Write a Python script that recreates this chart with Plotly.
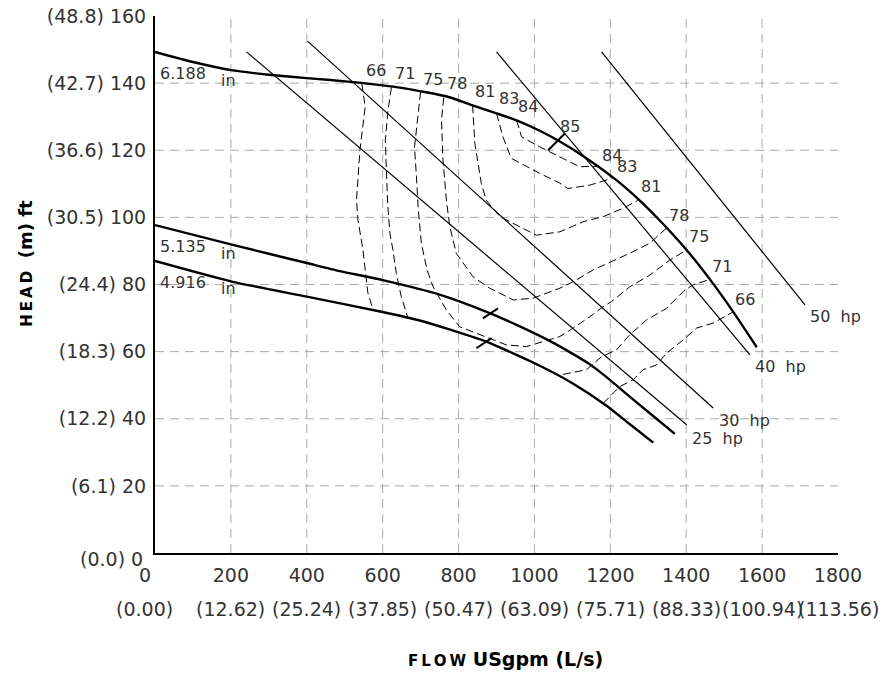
import plotly.graph_objects as go

FONT = "DejaVu Sans"
TXT = "#333333"

# ---------------- data (flow in USgpm, head in ft) ----------------
x_tick_vals = [200, 400, 600, 800, 1000, 1200, 1400, 1600, 1800]
x_tick_text = ["200", "400", "600", "800", "1000", "1200", "1400", "1600", "1800"]
x_metric_vals = [0, 200, 400, 600, 800, 1000, 1200, 1400, 1600, 1800]
x_metric_text = ["(0.00)", "(12.62)", "(25.24)", "(37.85)", "(50.47)", "(63.09)",
                 "(75.71)", "(88.33)", "(100.94)", "(113.56)"]
y_tick_vals = [20, 40, 60, 80, 100, 120, 140, 160]
y_tick_text = ["(6.1) 20", "(12.2) 40", "(18.3) 60", "(24.4) 80", "(30.5) 100",
               "(36.6) 120", "(42.7) 140", "(48.8) 160"]
x_grid = [200, 400, 600, 800, 1000, 1200, 1400, 1600]
y_grid = [20, 40, 60, 80, 100, 120, 140]

# impeller curves
imp6188_gpm = [0, 100, 205, 300, 400, 522, 650, 776, 837, 900, 953, 1014, 1067, 1128,
               1216, 1277, 1331, 1401, 1462, 1523, 1586]
imp6188_ft = [149.3, 146.3, 143.8, 142.5, 141.5, 140.3, 138.6, 135.8, 133.4, 131.0, 128.9,
              125.8, 122.6, 118.3, 111.1, 105.1, 99.0, 90.3, 81.6, 72.0, 61.3]
imp5135_gpm = [0, 205, 400, 487, 600, 750, 882, 960, 1040, 1100, 1146, 1190, 1233, 1300, 1370]
imp5135_ft = [97.7, 91.8, 86.4, 84.0, 81.3, 77.0, 71.5, 67.6, 63.2, 59.4, 56.2, 52.4, 48.3,
              42.0, 35.5]
imp4916_gpm = [0, 205, 400, 600, 700, 776, 873, 1014, 1100, 1190, 1250, 1313]
imp4916_ft = [87.0, 80.8, 76.4, 71.8, 69.2, 66.6, 63.0, 55.8, 50.6, 43.9, 38.5, 32.9]
imp_names = ["6.188", "5.135", "4.916"]
imp_label_ft = [143.0, 91.3, 80.5]
imp_unit_ft = [140.9, 89.3, 78.9]

# best efficiency marks (start / end of each short tick)
bep_gpm = [[1036, 1080], [864, 904], [847, 887]]
bep_ft = [[120.0, 125.0], [69.9, 72.9], [61.0, 64.0]]

# power lines
hp_names = ["25\u00a0\u00a0hp", "30\u00a0\u00a0hp", "40\u00a0\u00a0hp", "50\u00a0\u00a0hp"]
hp_gpm = [[241, 1401], [402, 1471], [900, 1568], [1177, 1713]]
hp_ft = [[149.3, 38.2], [152.5, 43.2], [149.3, 59.0], [149.3, 73.9]]
hp_label_gpm = [1409, 1480, 1576, 1721]
hp_label_ft = [34.2, 39.5, 55.5, 70.4]

# efficiency contours (%)
eff66L_gpm = [545, 554, 540, 531, 535, 548, 561, 575]
eff66L_ft = [139.8, 133.0, 120.0, 105.0, 99.2, 90.3, 77.5, 72.4]
eff66R_gpm = [1181, 1225, 1260, 1286, 1321, 1348, 1392, 1427, 1471, 1523]
eff66R_ft = [44.6, 49.6, 51.6, 54.6, 56.0, 59.5, 63.5, 67.0, 68.5, 71.8]
eff71L_gpm = [623, 614, 607, 610, 613, 619, 627, 636, 649, 667]
eff71L_ft = [138.7, 131.9, 123.0, 112.1, 104.3, 95.3, 90.3, 83.3, 76.4, 69.9]
eff71R_gpm = [1075, 1137, 1177, 1216, 1251, 1295, 1348, 1392, 1418, 1462]
eff71R_ft = [53.2, 54.6, 58.5, 60.5, 65.0, 69.4, 72.9, 77.9, 79.9, 81.5]
eff75_gpm = [700, 693, 684, 689, 694, 702, 717, 733, 768, 803, 856, 926, 979, 1027, 1067,
             1102, 1146, 1181, 1203, 1251, 1304, 1357, 1401]
eff75_ft = [137.4, 131.0, 121.0, 112.1, 102.2, 92.3, 84.3, 79.3, 72.4, 67.4, 65.0, 62.0,
            61.5, 63.2, 64.5, 67.0, 70.4, 73.4, 74.9, 79.3, 82.8, 87.3, 90.3]
eff78_gpm = [761, 755, 759, 768, 777, 794, 838, 882, 944, 996, 1067, 1102, 1154, 1203,
             1251, 1304, 1348]
eff78_ft = [135.7, 129.0, 117.0, 105.1, 97.2, 89.3, 82.3, 78.9, 75.4, 75.9, 78.9, 80.8,
            84.3, 86.8, 89.3, 92.3, 96.8]
eff81_gpm = [837, 843, 860, 873, 909, 953, 1005, 1067, 1128, 1181, 1233, 1272]
eff81_ft = [133.4, 122.0, 110.1, 105.1, 100.2, 97.7, 94.7, 95.7, 98.7, 100.2, 102.7, 105.0]
eff83_gpm = [900, 917, 939, 979, 1014, 1067, 1088, 1146, 1203]
eff83_ft = [131.0, 124.0, 117.6, 115.1, 113.1, 110.2, 108.6, 109.6, 111.6]
eff84_gpm = [953, 966, 1014, 1058, 1119, 1167]
eff84_ft = [128.9, 124.0, 121.0, 118.5, 115.1, 115.2]

eff_label_text = ["66", "71", "75", "78", "81", "83", "84", "85",
                  "84", "83", "81", "78", "75", "71", "66"]
eff_label_gpm = [583, 658, 733, 796, 869, 932, 982, 1095,
                 1205, 1245, 1306, 1381, 1433, 1495, 1556]
eff_label_ft = [143.7, 142.9, 141.1, 139.9, 137.6, 135.4, 133.1, 127.0,
                118.5, 115.3, 109.3, 100.7, 94.3, 85.5, 75.5]

# ---------------- figure ----------------
fig = go.Figure()

for gx, gy in [(eff66L_gpm, eff66L_ft), (eff66R_gpm, eff66R_ft), (eff71L_gpm, eff71L_ft),
               (eff71R_gpm, eff71R_ft), (eff75_gpm, eff75_ft), (eff78_gpm, eff78_ft),
               (eff81_gpm, eff81_ft), (eff83_gpm, eff83_ft), (eff84_gpm, eff84_ft)]:
    fig.add_trace(go.Scatter(x=gx, y=gy, mode="lines", hoverinfo="skip",
                             line=dict(color="black", width=1, dash="8px,4px")))

for gx, gy in zip(hp_gpm, hp_ft):
    fig.add_trace(go.Scatter(x=gx, y=gy, mode="lines", hoverinfo="skip",
                             line=dict(color="black", width=1.2)))

for gx, gy in [(imp6188_gpm, imp6188_ft), (imp5135_gpm, imp5135_ft), (imp4916_gpm, imp4916_ft)]:
    fig.add_trace(go.Scatter(x=gx, y=gy, mode="lines", hoverinfo="skip",
                             line=dict(color="black", width=2.4, shape="spline", smoothing=0.6)))

for gx, gy in zip(bep_gpm, bep_ft):
    fig.add_trace(go.Scatter(x=gx, y=gy, mode="lines", hoverinfo="skip",
                             line=dict(color="black", width=2)))

shapes = []
for gx in x_grid:
    shapes.append(dict(type="line", xref="x", yref="y", x0=gx, x1=gx, y0=0, y1=160,
                       layer="below", line=dict(color="#aaaaaa", width=1, dash="9px,6px")))
for gy in y_grid:
    shapes.append(dict(type="line", xref="x", yref="y", x0=0, x1=1800, y0=gy, y1=gy,
                       layer="below", line=dict(color="#aaaaaa", width=1, dash="9px,6px")))

ann = []
lab_font = dict(family=FONT, size=16, color=TXT)
for t, gx, gy in zip(eff_label_text, eff_label_gpm, eff_label_ft):
    ann.append(dict(x=gx, y=gy, xref="x", yref="y", text=t, showarrow=False,
                    font=lab_font, xanchor="center", yanchor="middle"))
for t, gx, gy in zip(hp_names, hp_label_gpm, hp_label_ft):
    ann.append(dict(x=gx, y=gy, xref="x", yref="y", text=t, showarrow=False,
                    font=lab_font, xanchor="left", yanchor="middle"))
for t, fy, uy in zip(imp_names, imp_label_ft, imp_unit_ft):
    ann.append(dict(x=7, y=fy, xref="x", yref="y", text=t, showarrow=False,
                    font=lab_font, xanchor="left", yanchor="middle"))
    ann.append(dict(x=168, y=uy, xref="x", yref="y", text="in", showarrow=False,
                    font=lab_font, xanchor="left", yanchor="middle"))

tick_font = dict(family=FONT, size=19, color=TXT)
for i, (v, t) in enumerate(zip(x_metric_vals, x_metric_text)):
    ann.append(dict(x=v, y=-0.1036, xref="x", yref="paper", text=t, showarrow=False,
                    font=tick_font, xanchor="center", yanchor="middle",
                    xshift=-11 if i == 0 else 0))
ann.append(dict(x=-0.0151, y=-0.0404, xref="paper", yref="paper", text="0", showarrow=False,
                font=tick_font, xanchor="center", yanchor="middle"))
ann.append(dict(x=-0.0141, y=-0.0106, xref="paper", yref="paper", text="(0.0) 0",
                showarrow=False, font=tick_font, xanchor="right", yanchor="middle"))

ann.append(dict(x=-0.1908, y=0.540, xref="paper", yref="paper", textangle=-90,
                text="<b><span style='font-size:15px'>H\u2009E\u2009A\u2009D</span>\u00a0\u00a0(m)\u00a0ft</b>",
                showarrow=False, font=dict(family=FONT, size=18, color="black"),
                xanchor="center", yanchor="middle"))
ann.append(dict(x=0.5135, y=-0.1966, xref="paper", yref="paper",
                text="<b><span style='font-size:15px'>F\u2009L\u2009O\u2009W</span>\u00a0USgpm\u00a0(L/s)</b>",
                showarrow=False, font=dict(family=FONT, size=19, color="black"),
                xanchor="center", yanchor="middle"))

fig.update_layout(
    width=896, height=677,
    margin=dict(l=155, r=58, t=16, b=124, autoexpand=False),
    paper_bgcolor="white", plot_bgcolor="white",
    showlegend=False,
    shapes=shapes, annotations=ann,
    xaxis=dict(range=[0, 1800], showgrid=False, zeroline=False, showline=True,
               linecolor="black", linewidth=2, tickvals=x_tick_vals, ticktext=x_tick_text,
               tickfont=tick_font, ticks="", ticklabelstandoff=4, fixedrange=True,
               automargin=False, ticklabeloverflow="allow"),
    yaxis=dict(range=[0, 160], showgrid=False, zeroline=False, showline=True,
               linecolor="black", linewidth=2, tickvals=y_tick_vals, ticktext=y_tick_text,
               tickfont=tick_font, ticks="", ticklabelstandoff=3, fixedrange=True,
               automargin=False, ticklabeloverflow="allow"),
)

# remove the default 8px page margin so the 896x677 figure fills the window exactly
fig.write_html("out.html", config={"displayModeBar": False},
               post_script="document.body.style.margin='0px';")
